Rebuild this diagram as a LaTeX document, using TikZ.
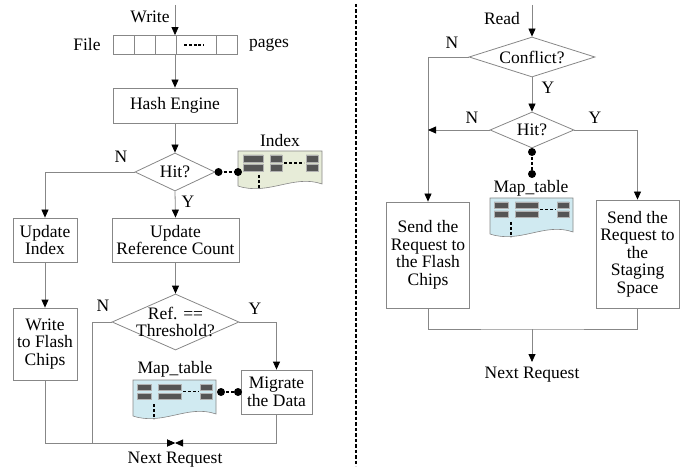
\documentclass[tikz,border=0pt]{standalone}
\usepackage{fontspec}
\setmainfont{Liberation Serif}
\usetikzlibrary{shapes.geometric,arrows.meta}
\definecolor{linegray}{RGB}{135,135,135}
\definecolor{indexfill}{RGB}{231,236,216}
\definecolor{mapfill}{RGB}{208,234,241}
\definecolor{cellfill}{RGB}{85,85,85}
\begin{document}
\begin{tikzpicture}[x=1pt,y=-1pt,
  every node/.style={font=\fontsize{17.5}{17.5}\selectfont},
  box/.style={draw=linegray, line width=0.8pt, align=center, inner sep=1pt},
  decision/.style={draw=linegray, line width=0.8pt, diamond, inner sep=0pt},
  wire/.style={draw=linegray, line width=0.8pt},
  flow/.style={draw=linegray, line width=0.8pt, -{Triangle[length=8pt,width=7pt,color=black]}},
  dotlink/.style={black, line width=1.6pt, dash pattern=on 3pt off 2pt},
  cell/.style={fill=cellfill, draw=gray!60, line width=0.5pt},
  dotted run/.style={black, line width=1.5pt, dash pattern=on 3pt off 2pt},
  indextable/.pic={
    \path[fill=indexfill, draw=linegray, line width=0.6pt]
      (0,0) -- (84,0) -- (84,33) .. controls (56,23) and (30,45) .. (0,35) -- cycle;
    \foreach \a/\b in {5/25,32/44,68/80}
      \path[cell] (\a,4) rectangle (\b,11) (\a,13) rectangle (\b,20);
    \draw[dotted run] (46,12) -- (66,12);
    \draw[dotted run] (21,24) -- (21,37);
  },
  maptable/.pic={
    \path[fill=mapfill, draw=linegray, line width=0.6pt]
      (0,0) -- (83,0) -- (83,34) .. controls (55,24) and (30,46) .. (0,36) -- cycle;
    \foreach \a/\b in {4/18,25/48,67/79}
      \path[cell] (\a,4) rectangle (\b,10) (\a,13) rectangle (\b,19);
    \draw[dotted run] (50,11.5) -- (66,11.5);
    \draw[dotted run] (21,24) -- (21,39);
  }]
\useasboundingbox (0,0) rectangle (690,470);

% ---------------- write path ----------------
\node (write) at (150,17) {Write};
\coordinate (wstart) at (175,5);
\node[draw=linegray, line width=0.8pt, minimum width=124pt, minimum height=19pt, inner sep=0pt] (file) at (175,45) {};
\foreach \x in {134,155.5,176,216.5}
  \draw[wire] (\x,35.5) -- (\x,54.5);
\draw[black, line width=1.3pt, dash pattern=on 3pt off 1.8pt] (184,45) -- (204,45);
\node (filelbl) at (87,45) {File};
\node (pages) at (269,45) {pages};

\node[box, minimum width=124pt, minimum height=35pt] (hash) at (175,105.5) {Hash Engine};
\node[decision, minimum width=80pt, minimum height=38pt, label={center:Hit?}] (hit1) at (175,172) {};
\node[box, minimum width=64pt, minimum height=44pt] (updidx) at (45,240) {Update\\Index};
\node[box, minimum width=127pt, minimum height=44pt] (updref) at (175.5,240) {Update\\Reference Count};
\node[box, minimum width=64pt, minimum height=72pt] (wflash) at (45,344) {Write\\to Flash\\Chips};
\node[decision, minimum width=127pt, minimum height=56pt,
      label={[align=center]center:Ref. ==\\Threshold?}] (ref) at (175.5,322) {};
\node[box, minimum width=71pt, minimum height=44pt] (migrate) at (276.5,392) {Migrate\\the Data};

\pic at (238,151) {indextable};
\node (idxlbl) at (280,141) {Index};
\pic at (133,380) {maptable};
\node (maplbl1) at (175,369) {Map\_table};

\node (n1) at (121,157) {N};
\node (y1) at (188,202) {Y};
\node (n2) at (103,306) {N};
\node (y2) at (255,309) {Y};

\coordinate (hitdot) at (218.5,172);
\coordinate (idxdot) at (238,172);
\coordinate (mapdot1) at (221,392);
\coordinate (migdot) at (238,392);
\coordinate (refN) at (92,322);
\coordinate (join1) at (175,443);
\node (next1) at (175,460) {Next Request};

\draw[flow] (wstart) -- (wstart |- file.north);
\draw[flow] (file.south) -- (hash.north);
\draw[flow] (hash.south) -- (hit1.north);
\draw[flow] (hit1.west) -| (updidx.north);
\draw[flow] (hit1.south) -- (updref.north);
\draw[flow] (updidx.south) -- (wflash.north);
\draw[flow] (updref.south) -- (ref.north);
\draw[flow] (ref.east) -| (migrate.north);
\draw[flow] (wflash.south) |- (join1);
\draw[flow] (ref.west) -- (refN) |- (join1);
\draw[flow] (migrate.south) |- (join1);

\draw[dotlink] (hitdot) -- (idxdot);
\fill (hitdot) circle (4pt) (idxdot) circle (4pt);
\draw[dotlink] (mapdot1) -- (migdot);
\fill (mapdot1) circle (4pt) (migdot) circle (4pt);

% ---------------- divider ----------------
\coordinate (divtop) at (356,4);
\coordinate (divbot) at (356,466);
\draw[black, line width=1.6pt, dash pattern=on 3.5pt off 2pt] (divtop) -- (divbot);

% ---------------- read path ----------------
\node (read) at (502,19) {Read};
\coordinate (rstart) at (532,5);
\node[decision, minimum width=126pt, minimum height=40pt, label={center:Conflict?}] (conf) at (532,57) {};
\node[decision, minimum width=84pt, minimum height=36pt, label={center:Hit?}] (hit2) at (532,130) {};
\node[box, minimum width=83pt, minimum height=106pt] (sflash) at (428,255) {Send the\\Request to\\the Flash\\Chips};
\node[box, minimum width=83pt, minimum height=108pt] (sstage) at (637.5,254) {Send the\\Request to\\the\\Staging\\Space};
\pic at (490,198) {maptable};
\node (maplbl2) at (531,188) {Map\_table};

\node (n3) at (452,43) {N};
\node (y3) at (548,88) {Y};
\node (n4) at (472,118) {N};
\node (y4) at (595,118) {Y};

\coordinate (hit2dot) at (532,152);
\coordinate (mapdot2) at (532,174);
\coordinate (join2) at (532,329);
\coordinate (rend) at (532,362);
\node (next2) at (532,375) {Next Request};

\draw[flow] (rstart) -- (conf.north);
\draw[flow] (conf.west) -| (sflash.north);
\draw[flow] (conf.south) -- (hit2.north);
\draw[flow] (hit2.west) -- (hit2.west -| sflash.north);
\draw[flow] (hit2.east) -| (sstage.north);
\draw[wire] (sflash.south) |- (join2) -| (sstage.south);
\draw[flow] (join2) -- (rend);

\draw[dotlink] (hit2dot) -- (mapdot2);
\fill (hit2dot) circle (4pt) (mapdot2) circle (4pt);
\end{tikzpicture}
\end{document}
